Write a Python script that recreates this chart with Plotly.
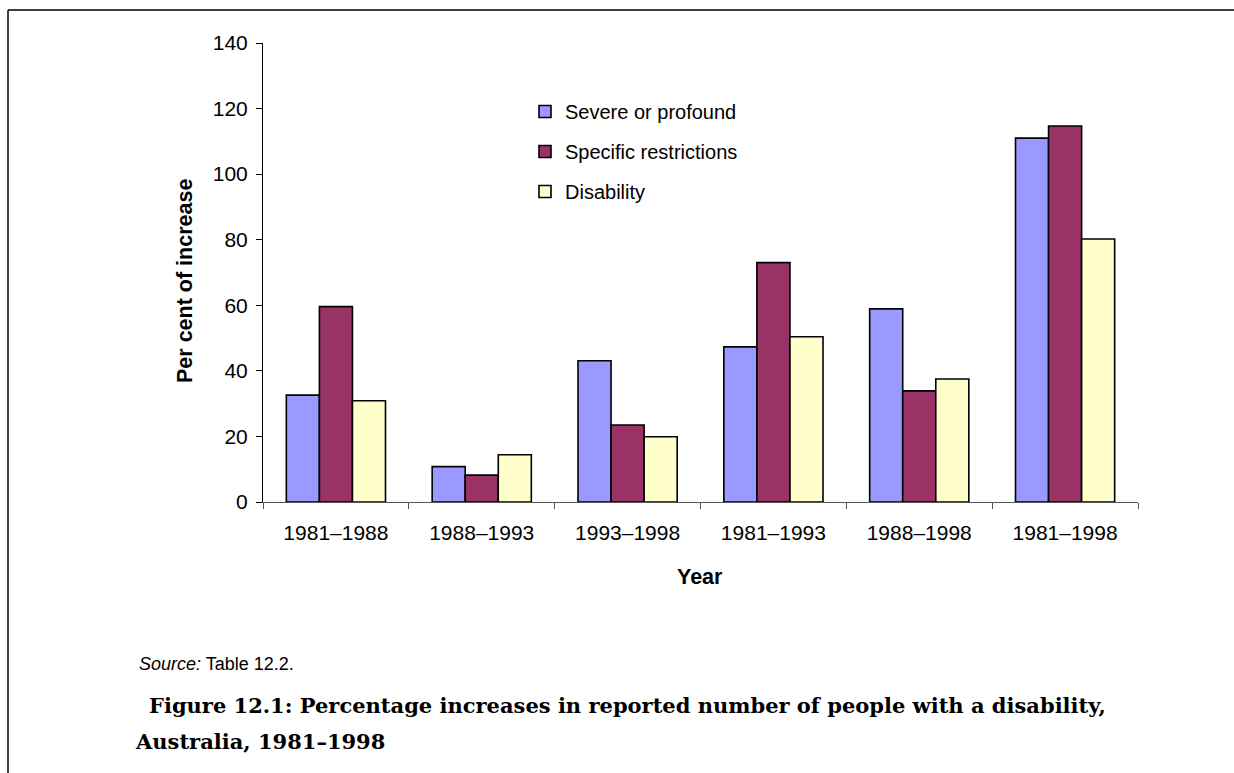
import plotly.graph_objects as go

# Periods compared and percentage increase for each disability measure
periods = ["1981–1988", "1988–1993", "1993–1998", "1981–1993", "1988–1998", "1981–1998"]
severe_profound = [32.6, 10.8, 43.1, 47.3, 58.9, 111.0]
specific_restrictions = [59.6, 8.2, 23.5, 73.0, 33.9, 114.7]
disability = [30.9, 14.4, 19.9, 50.4, 37.5, 80.2]

series_names = ["Severe or profound", "Specific restrictions", "Disability"]
series_values = [severe_profound, specific_restrictions, disability]
series_colors = ["#9999FF", "#993366", "#FFFFCC"]

y_ticks = [0, 20, 40, 60, 80, 100, 120, 140]

FONT = "Liberation Sans, Arial, sans-serif"
SERIF = "DejaVu Serif, serif"

fig = go.Figure()
for name, vals, col in zip(series_names, series_values, series_colors):
    fig.add_trace(go.Bar(
        x=periods, y=vals, name=name, legendgroup=name,
        marker=dict(color=col, line=dict(color="#000000", width=1.6)),
    ))

# plot area in pixels: left 263, right 1138, top 43, bottom 502
W, H = 1234, 773
L, R, T, B = 263, 1138, 43, 502


def px_x(x):
    return (x - L) / (R - L)


def px_y(y):
    return (B - y) / (B - T)


fig.update_layout(
    width=W, height=H,
    margin=dict(l=L, r=W - R, t=T, b=H - B, pad=0),
    paper_bgcolor="white", plot_bgcolor="white",
    barmode="group", bargap=0.32, bargroupgap=0,
    font=dict(family=FONT, size=21, color="#000000"),
    showlegend=True,
    legend=dict(
        x=px_x(525), y=px_y(92), xanchor="left", yanchor="top",
        font=dict(family=FONT, size=20, color="#000000"),
        bgcolor="rgba(0,0,0,0)", tracegroupgap=11,
        itemclick=False, itemdoubleclick=False,
    ),
    xaxis=dict(
        type="category", tickson="boundaries", ticks="outside", ticklen=6,
        tickcolor="#555555", showline=True, linecolor="#555555", linewidth=1,
        showgrid=False, tickfont=dict(size=21), zeroline=False,
        ticklabelstandoff=12,
    ),
    yaxis=dict(
        range=[0, 140], tickvals=y_ticks, ticks="outside", ticklen=6,
        tickcolor="#000000", showline=True, linecolor="#000000", linewidth=1,
        showgrid=False, zeroline=False, tickfont=dict(size=21),
        ticklabelstandoff=4,
    ),
)

annotations = [
    dict(text="<b>Per cent of increase</b>", x=px_x(185), y=px_y(281), textangle=-90,
         font=dict(family=FONT, size=21.5)),
    dict(text="<b>Year</b>", x=px_x(700), y=px_y(577), font=dict(family=FONT, size=21.5)),
    dict(text="<i>Source:</i> Table 12.2.", x=px_x(137), y=px_y(664), xanchor="left",
         font=dict(family=FONT, size=18)),
    dict(text="<b>Figure 12.1: Percentage increases in reported number of people with a disability,</b>",
         x=px_x(147), y=px_y(705), xanchor="left", font=dict(family=SERIF, size=21)),
    dict(text="<b>Australia, 1981–1998</b>", x=px_x(133), y=px_y(741), xanchor="left",
         font=dict(family=SERIF, size=21)),
]
for a in annotations:
    a.update(xref="paper", yref="paper", showarrow=False, yanchor="middle")
    a.setdefault("xanchor", "center")
fig.update_layout(annotations=annotations)

# page frame: top and left rules
fig.add_shape(type="line", xref="paper", yref="paper",
              x0=px_x(8), x1=px_x(1240), y0=px_y(10), y1=px_y(10),
              line=dict(color="#000000", width=1.5))
fig.add_shape(type="line", xref="paper", yref="paper",
              x0=px_x(8), x1=px_x(8), y0=px_y(10), y1=px_y(780),
              line=dict(color="#000000", width=1.5))

fig.write_html("out.html")
